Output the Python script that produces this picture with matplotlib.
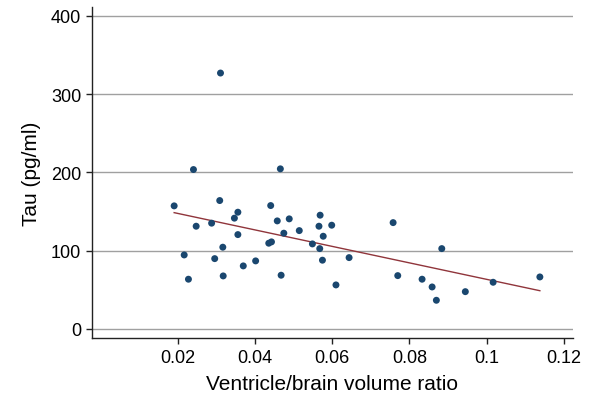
import numpy as np
import matplotlib
matplotlib.use("Agg")
import matplotlib.pyplot as plt

plt.rcParams["font.family"] = ["Liberation Sans", "DejaVu Sans"]

# ventricle/brain volume ratio vs. tau (pg/ml)
ratio = [
    0.0241, 0.0466, 0.0191, 0.0309, 0.0356, 0.0347, 0.0441, 0.0458, 0.0489,
    0.0569, 0.0566, 0.0599, 0.0248, 0.0288, 0.0356, 0.0515, 0.0475, 0.0577,
    0.0436, 0.0443, 0.0549, 0.0568, 0.0317, 0.0217, 0.0296, 0.0644, 0.0575,
    0.0402, 0.0370, 0.0318, 0.0468, 0.0228, 0.0610, 0.0758, 0.0884, 0.0770,
    0.0833, 0.0859, 0.0870, 0.0945, 0.1017, 0.1138, 0.0311,
]
tau = [
    203.7, 204.6, 157.3, 164.1, 149.2, 141.6, 157.7, 138.1, 140.7,
    145.4, 131.3, 132.6, 131.3, 135.2, 120.6, 125.7, 122.4, 118.5,
    109.6, 111.3, 108.7, 102.7, 104.5, 94.6, 89.9, 91.2, 87.9,
    87.0, 80.6, 67.8, 68.7, 63.6, 56.3, 135.9, 102.7, 68.2,
    63.6, 53.7, 36.7, 47.7, 59.7, 66.5, 327.0,
]

x = np.array(ratio)
y = np.array(tau)
slope, intercept = np.polyfit(x, y, 1)
xfit = np.array([x.min(), x.max()])

fig = plt.figure(figsize=(5.95, 4.02), dpi=100)
ax = fig.add_axes([0.1551, 0.1575, 0.8074, 0.8219])

ax.set_axisbelow(True)
ax.grid(axis="y", color="#a0a0a0", linewidth=1.0)
ax.scatter(x, y, s=25, color="#1a476f", edgecolors="none", zorder=3)
ax.plot(xfit, intercept + slope * xfit, color="#90353b", linewidth=1.0, zorder=2)

ax.set_xlim(-0.0021, 0.1223)
ax.set_ylim(-11.1, 411)
ax.set_xticks([0.02, 0.04, 0.06, 0.08, 0.1, 0.12])
ax.set_xticklabels(["0.02", "0.04", "0.06", "0.08", "0.1", "0.12"])
ax.set_yticks([0, 100, 200, 300, 400])

for side in ("top", "right"):
    ax.spines[side].set_visible(False)
for side in ("left", "bottom"):
    ax.spines[side].set_color("#222222")
    ax.spines[side].set_linewidth(1.0)

ax.tick_params(axis="both", direction="out", length=4.5, width=1.0,
               color="#222222", labelsize=13, pad=3.5)
ax.set_xlabel("Ventricle/brain volume ratio", fontsize=15, labelpad=6)
ax.set_ylabel("Tau (pg/ml)", fontsize=15, labelpad=7)

fig.savefig("out.png", dpi=100)
